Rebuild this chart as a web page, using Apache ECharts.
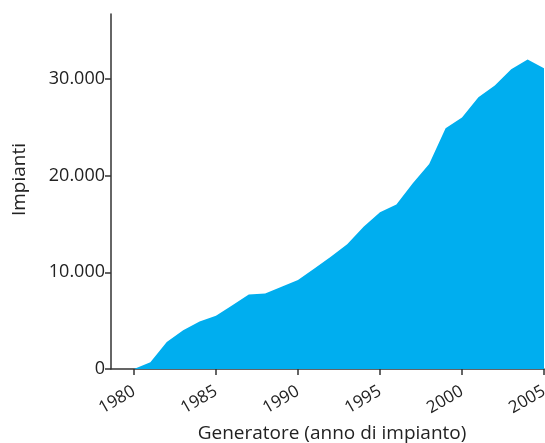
<!DOCTYPE html>
<html>
<head>
<meta charset="utf-8">
<script src="https://cdn.jsdelivr.net/npm/echarts@6/dist/echarts.min.js"></script>
<style>
html,body{margin:0;padding:0;background:#fff;}
#c{width:545px;height:443px;}
</style>
</head>
<body>
<div id="c"></div>
<script>
var years = [1980,1981,1982,1983,1984,1985,1986,1987,1988,1989,1990,1991,1992,1993,1994,1995,1996,1997,1998,1999,2000,2001,2002,2003,2004,2005];
var impianti = [0,700,2800,4000,4900,5500,6600,7700,7800,8500,9200,10400,11600,12900,14700,16200,17000,19200,21200,24900,26000,28100,29300,31000,32000,31100];
var xTicks = [1980,1985,1990,1995,2000,2005];
var yTicks = [0,10000,20000,30000];

var data = years.map(function(y,i){return [y, impianti[i]];});
var font = '"Open Sans", "Noto Sans", sans-serif';
var axisColor = '#333';
var chart = echarts.init(document.getElementById('c'), null, {renderer:'canvas'});
chart.setOption({
  animation:false,
  grid:{left:111, right:1, top:14, bottom:74, containLabel:false, outerBoundsMode:'none'},
  xAxis:{
    type:'value', min:1978.6, max:2005,
    name:'Generatore (anno di impianto)', nameLocation:'middle', nameGap:55,
    nameTextStyle:{fontFamily:font, fontSize:19, color:'#222', padding:[0,0,0,9]},
    axisLine:{show:true, onZero:false, lineStyle:{color:axisColor, width:1.5}},
    axisTick:{show:true, length:6, customValues:xTicks, lineStyle:{color:axisColor, width:1.5}},
    axisLabel:{customValues:xTicks, rotate:30, margin:21, fontFamily:font, fontSize:17, color:'#222',
      hideOverlap:false, formatter:function(v){return String(v);}},
    splitLine:{show:false}
  },
  yAxis:{
    type:'value', min:0, max:36700, interval:10000,
    name:'Impianti', nameLocation:'middle', nameGap:82,
    nameTextStyle:{fontFamily:font, fontSize:19, color:'#222', padding:[0,0,0,24]},
    axisLine:{show:true, lineStyle:{color:axisColor, width:1.5}},
    axisTick:{show:true, length:6, customValues:yTicks, lineStyle:{color:axisColor, width:1.5}},
    axisLabel:{customValues:yTicks, margin:6, fontFamily:font, fontSize:18, color:'#222',
      formatter:function(v){return String(v).replace(/\B(?=(\d{3})+(?!\d))/g,'.');}},
    splitLine:{show:false}
  },
  series:[{
    type:'line', data:data, showSymbol:false, symbol:'none',
    lineStyle:{width:0}, areaStyle:{color:'#00AEEF', opacity:1},
    z:1
  }]
});
</script>
</body>
</html>
